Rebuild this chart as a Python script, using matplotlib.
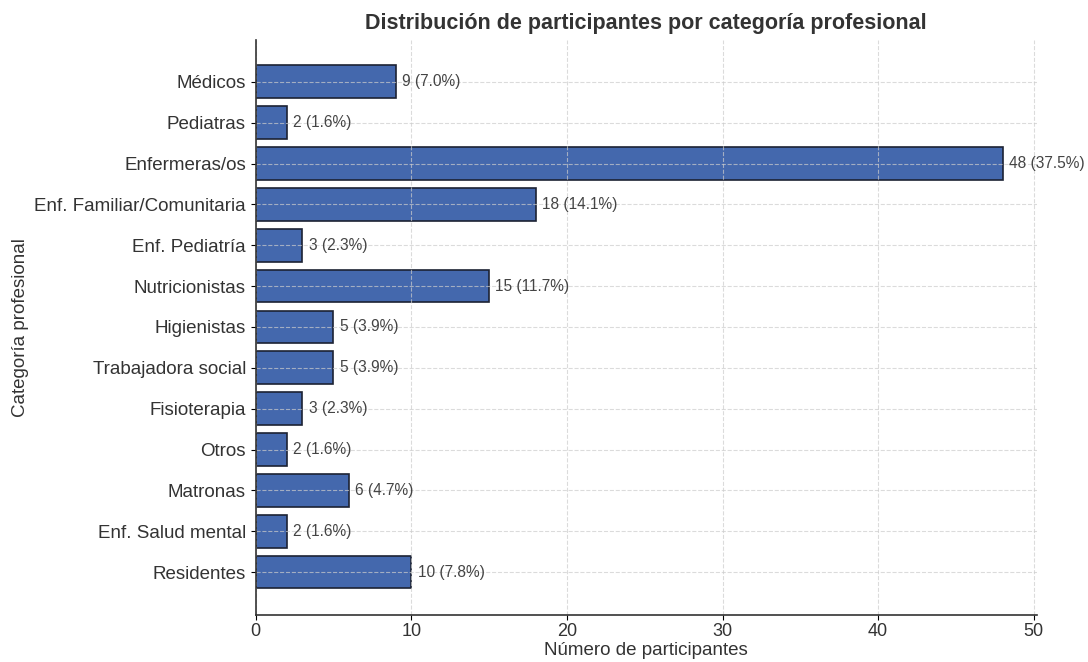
import matplotlib.pyplot as plt

categorias = ['Médicos', 'Pediatras', 'Enfermeras/os', 'Enf. Familiar/Comunitaria',
              'Enf. Pediatría', 'Nutricionistas', 'Higienistas', 'Trabajadora social',
              'Fisioterapia', 'Otros', 'Matronas', 'Enf. Salud mental', 'Residentes']
participantes = [9, 2, 48, 18, 3, 15, 5, 5, 3, 2, 6, 2, 10]
porcentajes = [7.0, 1.6, 37.5, 14.1, 2.3, 11.7, 3.9, 3.9, 2.3, 1.6, 4.7, 1.6, 7.8]

if __name__ == '__main__':
    plt.rcParams['font.family'] = ['Liberation Sans', 'DejaVu Sans']
    fig, ax = plt.subplots(figsize=(10.88, 6.62), dpi=100)

    y = list(range(len(categorias)))
    ax.barh(y, participantes, height=0.8, color='#4468ad', edgecolor='#1c2233',
            linewidth=1.2, zorder=2)

    for yi, n, p in zip(y, participantes, porcentajes):
        ax.text(n + 0.4, yi, '{} ({:.1f}%)'.format(n, p), va='center', ha='left',
                fontsize=11.2, color='#444444', zorder=3)

    ax.set_yticks(y)
    ax.set_yticklabels(categorias, fontsize=13.5, color='#333333')
    ax.set_ylim(len(categorias) - 1 + 1.05, -1.03)
    ax.set_xlim(0, 50.2)
    ax.set_xticks([0, 10, 20, 30, 40, 50])
    ax.tick_params(axis='x', labelsize=13, labelcolor='#333333', pad=2.5)

    ax.grid(True, linestyle='--', color='#cccccc', linewidth=0.8, alpha=0.7, zorder=4)
    ax.set_axisbelow(False)
    for s in ['top', 'right']:
        ax.spines[s].set_visible(False)
    for s in ['left', 'bottom']:
        ax.spines[s].set_color('#333333')
        ax.spines[s].set_linewidth(1.2)
        ax.spines[s].set_zorder(5)

    ax.set_title('Distribución de participantes por categoría profesional',
                 fontsize=15.5, fontweight='bold', color='#333333', pad=8)
    ax.set_xlabel('Número de participantes', fontsize=13.5, color='#333333', labelpad=1)
    ax.set_ylabel('Categoría profesional', fontsize=13.5, color='#333333')

    plt.subplots_adjust(left=0.235, right=0.953, top=0.94, bottom=0.071)
    plt.savefig('out.png', dpi=100)
